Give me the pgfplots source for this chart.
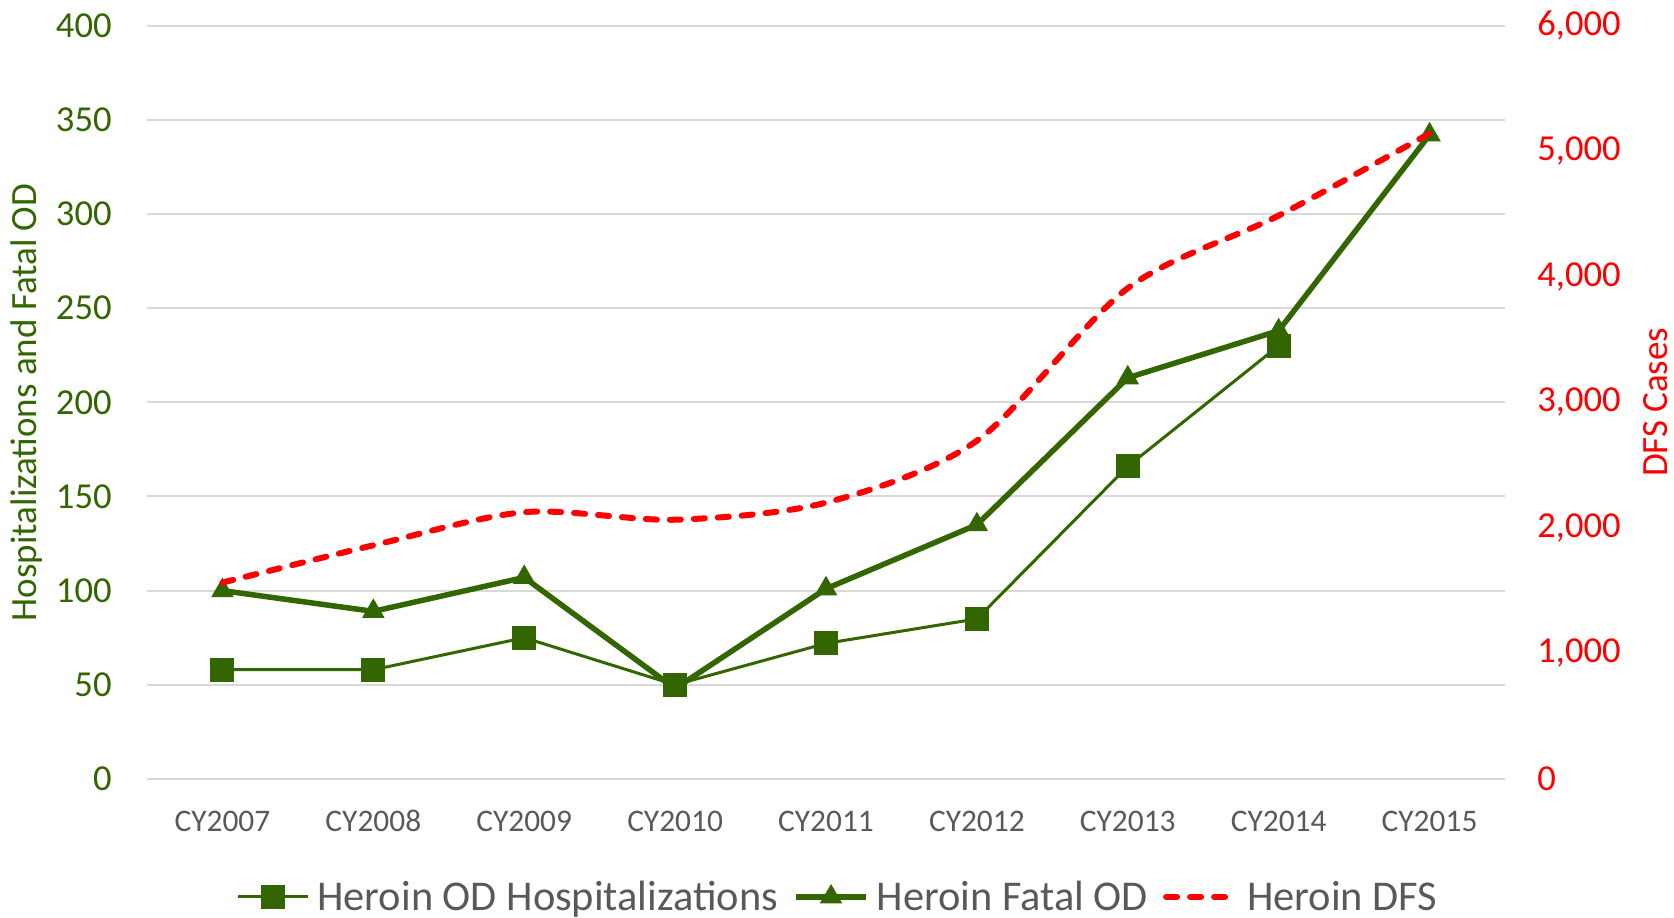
\documentclass[border=0pt]{standalone}
\usepackage{fontspec}
\setmainfont{Carlito}
\usepackage{pgfplots}
\pgfplotsset{compat=1.18}

\definecolor{hgreen}{RGB}{51,102,0}
\definecolor{hred}{RGB}{255,0,0}
\definecolor{tickgray}{RGB}{89,89,89}
\definecolor{gridgray}{RGB}{217,217,217}

\pgfplotsset{
  common/.style={
    scale only axis, width=679pt, height=376.7pt,
    xmin=-0.5, xmax=8.5,
    major tick length=0pt,
    /pgf/number format/assume math mode=true,
  },
}

\begin{document}
\begin{tikzpicture}
\begin{axis}[
  common, name=ax,
  ymin=0, ymax=400,
  xtick={0,...,8},
  xticklabels={CY2007,CY2008,CY2009,CY2010,CY2011,CY2012,CY2013,CY2014,CY2015},
  ytick={0,50,...,400},
  ymajorgrids, grid style={draw=gridgray, line width=1pt},
  axis line style={draw=none},
  xticklabel style={font=\fontsize{15.7}{18}\selectfont, text=tickgray, inner sep=0pt, anchor=center, yshift=-21pt},
  yticklabel style={font=\fontsize{18.3}{22}\selectfont, text=hgreen, inner sep=0pt, anchor=east, xshift=-17.5pt},
  ylabel={Hospitalizations and Fatal OD},
  every axis y label/.style={at={(axis description cs:-0.0884,0.5)}, rotate=90, anchor=center,
    font=\fontsize{18.5}{22}\selectfont, text=hgreen},
]
% heroin OD hospitalizations (no value for 2015)
\addplot[hgreen, line width=1.5pt, mark=square*, mark size=5.25pt, mark options={solid, fill=hgreen}]
  coordinates {(0,58) (1,58) (2,75) (3,50) (4,72) (5,85) (6,166) (7,230)};
% heroin fatal OD
\addplot[hgreen, line width=2.75pt, mark=triangle*, mark size=6pt, mark options={solid, fill=hgreen, line width=0.5pt}]
  coordinates {(0,100) (1,89) (2,107) (3,48) (4,101) (5,135) (6,213) (7,238) (8,342)};
\end{axis}

\begin{axis}[
  common,
  ymin=0, ymax=6000,
  axis x line=none, axis y line*=right,
  axis line style={draw=none},
  ytick={0,1000,...,6000},
  /pgf/number format/1000 sep={,},
  yticklabel style={font=\fontsize{18.3}{22}\selectfont, text=hred, inner sep=0pt, anchor=west, xshift=16pt},
  ylabel={DFS Cases},
  every axis y label/.style={at={(axis description cs:1.1112,0.5)}, rotate=90, anchor=center,
    font=\fontsize{18.5}{22}\selectfont, text=hred},
  legend columns=3,
  legend image code/.code={\draw[mark repeat=2, mark phase=2] plot coordinates {(0pt,0pt) (17.5pt,0pt) (35pt,0pt)};},
  legend style={at={(axis description cs:0.509,-0.1566)}, anchor=center, draw=none, fill=none,
    font=\fontsize{21.2}{25}\selectfont, text=tickgray,
    nodes={inner sep=1.5pt},
    /tikz/every odd column/.append style={column sep=2.5pt},
    /tikz/every even column/.append style={column sep=6pt}},
]
\addlegendimage{hgreen, line width=1.5pt, mark=square*, mark size=5.25pt, mark options={solid, fill=hgreen}}
\addlegendentry{Heroin OD Hospitalizations}
\addlegendimage{hgreen, line width=2.75pt, mark=triangle*, mark size=6pt, mark options={solid, fill=hgreen, line width=0.5pt}}
\addlegendentry{Heroin Fatal OD}
% heroin DFS cases, smoothed dashed line
\addplot[hred, line width=3pt, line cap=round, dash pattern=on 5.5pt off 6.5pt, smooth]
  coordinates {(0,1564) (1,1861) (2,2125) (3,2065) (4,2201) (5,2694) (6,3909) (7,4487) (8,5141)};
\addlegendentry{Heroin DFS}
\end{axis}
\pgfresetboundingbox
\path[use as bounding box] ([xshift=-73.5pt,yshift=-69.5pt]ax.south west) rectangle ([xshift=84.5pt,yshift=12.8pt]ax.north east);
\end{tikzpicture}
\end{document}
